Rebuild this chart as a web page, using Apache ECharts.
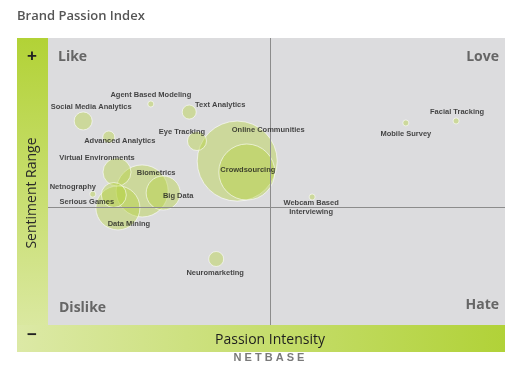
<!DOCTYPE html>
<html>
<head>
<meta charset="utf-8">
<script src="https://cdn.jsdelivr.net/npm/echarts@6/dist/echarts.min.js"></script>
<style>
html,body{margin:0;padding:0;background:#fff;}
#chart{width:519px;height:365px;}
</style>
</head>
<body>
<div id="chart"></div>
<script>
// ---- data ----
const topics = ["Online Communities","Crowdsourcing","Biometrics","Data Mining","Big Data","Virtual Environments","Serious Games","Eye Tracking","Social Media Analytics","Neuromarketing","Text Analytics","Advanced Analytics","Agent Based Modeling","Mobile Survey","Facial Tracking","Webcam Based\nInterviewing","Netnography"];
const passion   = [41.4, 43.5, 20.6, 15.3, 25.2, 15.1, 14.4, 32.6, 7.7, 36.8, 30.9, 13.3, 22.5, 78.3, 89.3, 57.8, 9.8];
const sentiment = [57.1, 53.3, 46.7, 40.8, 46.0, 53.3, 45.3, 64.1, 71.1, 23.0, 74.2, 65.5, 77.0, 70.4, 71.1, 44.6, 45.6];
const volume    = [1600, 784, 676, 484, 289, 196, 156, 90, 81, 56, 49, 36, 9, 9, 9, 9, 9];
const passionMid = 48.6;
const sentimentMid = 41.1;
const quadrantLabels = ["Like","Love","Dislike","Hate"];

// label placement (style only)
const labelOffset = {
  "Online Communities":[31,-31], "Crowdsourcing":[1,-2], "Biometrics":[14,-18], "Data Mining":[11,16],
  "Big Data":[15,3], "Virtual Environments":[-20,-14], "Serious Games":[-27,7], "Eye Tracking":[-15,-9],
  "Social Media Analytics":[8,-14], "Neuromarketing":[-1,14], "Text Analytics":[31,-7],
  "Advanced Analytics":[11,4], "Agent Based Modeling":[0,-9], "Mobile Survey":[0,11],
  "Facial Tracking":[1,-9], "Webcam Based\nInterviewing":[-1,10], "Netnography":[-20,-7]
};

const pts = topics.map((t,i)=>({name:t, value:[passion[i], sentiment[i], volume[i]]}));

const chart = echarts.init(document.getElementById('chart'), null, {renderer:'canvas'});
const G = {left:48, top:38, width:457, height:287};
const font = "Liberation Sans";

chart.setOption({
  animation:false,
  grid:{left:G.left, top:G.top, width:G.width, height:G.height, show:true, backgroundColor:'#dcdcde', borderWidth:0},
  xAxis:{type:'value', min:0, max:100, show:false},
  yAxis:{type:'value', min:0, max:100, show:false},
  series:[
    {
      type:'scatter',
      data:pts,
      symbolSize:v=>2*Math.sqrt(v[2]),
      itemStyle:{color:'rgba(180,211,55,0.5)', borderColor:'rgba(255,255,255,0.75)', borderWidth:1},
      markLine:{
        silent:true, symbol:'none', label:{show:false},
        lineStyle:{color:'#8c8c8c', width:1, type:'solid'},
        data:[{xAxis:passionMid},{yAxis:sentimentMid}]
      },
      z:2
    },
    {
      type:'scatter',
      data:pts.map(p=>({
        name:p.name, value:p.value,
        label:{show:true, position:'inside', offset:labelOffset[p.name], formatter:'{b}',
               fontFamily:font, fontWeight:'bold', fontSize:7.5, color:'#1a1a1a', lineHeight:9, align:'center'}
      })),
      symbolSize:0,
      silent:true,
      z:5
    }
  ],
  graphic:[
    {type:'text', left:17, top:10, style:{text:'Brand Passion Index', fontFamily:'Open Sans', fontWeight:600, fontSize:13, fill:'#555'}},
    {type:'rect', shape:{x:17, y:38, width:31, height:287},
     style:{fill:new echarts.graphic.LinearGradient(0,0,0,1,[{offset:0,color:'#b2d236'},{offset:1,color:'#dae8a0'}])}},
    {type:'rect', shape:{x:17, y:325, width:488, height:27},
     style:{fill:new echarts.graphic.LinearGradient(0,0,1,0,[{offset:0,color:'#dce9a6'},{offset:1,color:'#b1d238'}])}},
    {type:'text', x:32, y:56, style:{text:'+', fontFamily:font, fontWeight:'bold', fontSize:17, fill:'#222', align:'center', verticalAlign:'middle'}},
    {type:'text', x:32, y:335, style:{text:'\u2212', fontFamily:font, fontWeight:'bold', fontSize:17, fill:'#222', align:'center', verticalAlign:'middle'}},
    {type:'text', x:32, y:193, rotation:Math.PI/2, style:{text:'Sentiment Range', fontFamily:'Open Sans', fontSize:14, fill:'#2a2a2a', align:'center', verticalAlign:'middle'}},
    {type:'text', x:270, y:340, style:{text:'Passion Intensity', fontFamily:'Open Sans', fontSize:14, fill:'#1e1e1e', align:'center', verticalAlign:'middle'}},
    {type:'text', x:58, y:57, style:{text:quadrantLabels[0], fontFamily:'Open Sans', fontWeight:'bold', fontSize:14, fill:'#666', align:'left', verticalAlign:'middle'}},
    {type:'text', x:499, y:57, style:{text:quadrantLabels[1], fontFamily:'Open Sans', fontWeight:'bold', fontSize:14, fill:'#666', align:'right', verticalAlign:'middle'}},
    {type:'text', x:59, y:308, style:{text:quadrantLabels[2], fontFamily:'Open Sans', fontWeight:'bold', fontSize:14, fill:'#666', align:'left', verticalAlign:'middle'}},
    {type:'text', x:499, y:305, style:{text:quadrantLabels[3], fontFamily:'Open Sans', fontWeight:'bold', fontSize:14, fill:'#666', align:'right', verticalAlign:'middle'}},
    {type:'text', x:269, y:358, style:{text:'N E T B A S E', fontFamily:font, fontWeight:'bold', fontSize:11, fill:'#7a7a7a', align:'center', verticalAlign:'middle'}}
  ]
});
</script>
</body>
</html>
